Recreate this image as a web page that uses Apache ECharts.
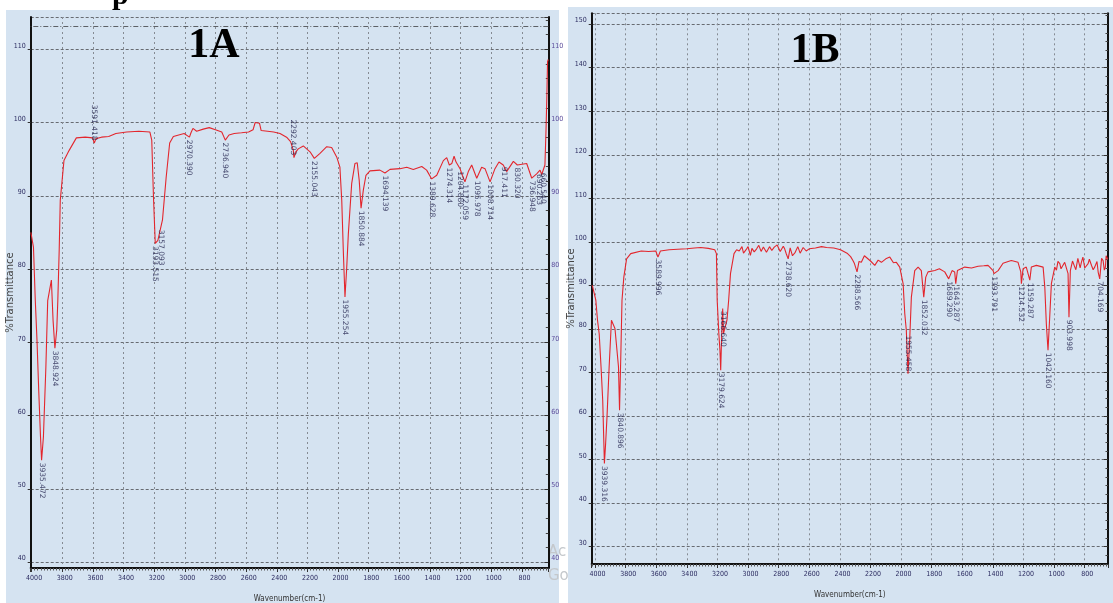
<!DOCTYPE html>
<html><head><meta charset="utf-8">
<script src="https://cdn.jsdelivr.net/npm/echarts@6/dist/echarts.min.js"></script>
<style>html,body{margin:0;padding:0;background:#fff;}#c{width:1113px;height:603px;}</style>
</head><body><div id="c"></div>
<script>
// ---------- DATA ----------
const xTickLabels = [4000, 3800, 3600, 3400, 3200, 3000, 2800, 2600, 2400, 2200, 2000, 1800, 1600, 1400, 1200, 1000, 800];
const yTickLabelsA = [40, 50, 60, 70, 80, 90, 100, 110];
const yTickLabelsB = [30, 40, 50, 60, 70, 80, 90, 100, 110, 120, 130, 140, 150];

// Spectrum 1A: wavenumber (cm-1) and %T
const wnA = [4005, 3988, 3976, 3965, 3953, 3942, 3935, 3923, 3907, 3895, 3883, 3871, 3860, 3848, 3836, 3829, 3820, 3813, 3789, 3755,
  3708, 3650, 3602, 3591, 3580, 3544, 3497, 3450, 3380, 3300, 3228, 3216, 3204, 3193, 3176, 3157, 3146, 3122, 3099, 3075,
  3005, 2970, 2960, 2947, 2923, 2880, 2841, 2800, 2759, 2736, 2712, 2678, 2630, 2584, 2555, 2541, 2513, 2502, 2460, 2420,
  2379, 2336, 2310, 2292, 2288, 2275, 2260, 2227, 2183, 2155, 2118, 2074, 2042, 2009, 1988, 1976, 1966, 1955, 1944, 1933,
  1911, 1890, 1875, 1862, 1850, 1835, 1818, 1792, 1727, 1694, 1661, 1596, 1552, 1509, 1454, 1422, 1389, 1356, 1313, 1291,
  1274, 1258, 1243, 1230, 1204, 1189, 1172, 1150, 1128, 1095, 1063, 1041, 1008, 976, 950, 922, 900, 856, 830, 769,
  736, 704, 682, 671, 650, 643, 638, 633, 628];
const tA = [85.0, 83.0, 75.7, 70.3, 63.1, 57.1, 53.9, 57.1, 66.6, 75.7, 77.1, 78.5, 73.0, 69.2, 71.7, 75.7, 82.6, 89.4, 94.8, 96.2,
  97.9, 98.0, 97.9, 97.2, 97.8, 98.0, 98.1, 98.5, 98.7, 98.8, 98.7, 97.6, 89.4, 83.5, 83.9, 85.7, 86.7, 92.5, 97.2, 98.1,
  98.5, 98.0, 98.6, 99.2, 98.8, 99.1, 99.3, 99.0, 98.7, 97.6, 98.3, 98.5, 98.6, 98.7, 99.0, 100.0, 99.9, 98.9, 98.8, 98.7,
  98.5, 98.0, 97.4, 96.2, 95.2, 96.0, 96.4, 96.8, 96.0, 95.1, 95.8, 96.7, 96.6, 95.3, 93.9, 89.4, 82.6, 76.2, 80.0, 84.8,
  91.7, 94.4, 94.5, 92.1, 88.3, 90.8, 92.8, 93.4, 93.5, 93.1, 93.6, 93.7, 93.9, 93.6, 94.0, 93.5, 92.3, 92.8, 94.8, 95.2,
  94.2, 94.4, 95.4, 94.6, 93.7, 92.8, 91.9, 93.3, 94.2, 92.4, 93.9, 93.7, 91.9, 93.7, 94.6, 94.2, 93.3, 94.7, 94.2, 94.4,
  92.4, 93.0, 93.5, 92.9, 94.2, 98.9, 103.0, 108.3, 108.6];

// Spectrum 1B
const wnB = [4018, 3995, 3984, 3973, 3961, 3950, 3943, 3939, 3931, 3922,
  3908, 3893, 3886, 3870, 3858, 3847, 3840, 3831, 3824, 3812,
  3794, 3767, 3698, 3650, 3603, 3589, 3573, 3516, 3460, 3401,
  3350, 3310, 3260, 3218, 3207, 3202, 3191, 3184, 3179, 3173,
  3166, 3161, 3150, 3138, 3127, 3115, 3092, 3075, 3058, 3040,
  3030, 3013, 3000, 2985, 2975, 2960, 2944, 2930, 2915, 2900,
  2880, 2860, 2845, 2829, 2810, 2790, 2770, 2761, 2750, 2738,
  2725, 2710, 2692, 2675, 2660, 2640, 2620, 2601, 2560, 2520,
  2487, 2440, 2396, 2350, 2330, 2315, 2305, 2288, 2275, 2260,
  2240, 2227, 2200, 2172, 2150, 2129, 2100, 2074, 2050, 2031,
  2009, 1987, 1976, 1966, 1955, 1944, 1933, 1911, 1889, 1868,
  1852, 1839, 1824, 1780, 1750, 1715, 1689, 1667, 1650, 1643,
  1632, 1584, 1540, 1497, 1460, 1432, 1399, 1393, 1366, 1334,
  1300, 1280, 1236, 1218, 1214, 1203, 1182, 1159, 1149, 1116,
  1072, 1061, 1051, 1040, 1029, 1018, 996, 985, 975, 963,
  955, 931, 909, 903, 894, 880, 865, 858, 845, 830,
  822, 812, 800, 790, 778, 770, 755, 745, 735, 720,
  712, 702, 690, 680, 672, 665, 660, 650];
const tB = [90.0, 86.6, 82.0, 78.9, 71.3, 63.6, 54.4, 49.1, 53.7, 59.8,
  71.3, 82.0, 82.4, 80.1, 79.7, 71.3, 61.3, 75.1, 86.6, 91.9,
  96.1, 97.3, 97.9, 97.8, 97.9, 96.5, 97.9, 98.2, 98.3, 98.4,
  98.6, 98.7, 98.5, 98.2, 97.3, 86.6, 78.9, 75.1, 70.5, 78.1,
  84.7, 78.9, 80.4, 82.0, 86.6, 92.7, 97.3, 98.2, 97.9, 98.9,
  97.4, 98.2, 98.9, 96.9, 98.5, 97.7, 98.4, 99.2, 97.8, 98.8,
  97.6, 98.9, 98.0, 98.8, 99.3, 97.8, 99.0, 98.4, 97.2, 96.1,
  98.6, 96.8, 97.6, 98.9, 97.4, 98.7, 97.9, 98.4, 98.6, 98.9,
  98.7, 98.6, 98.2, 97.3, 96.6, 95.7, 95.0, 93.1, 95.5, 95.3,
  96.8, 96.5, 95.6, 94.6, 95.8, 95.3, 96.1, 96.5, 95.2, 95.3,
  94.2, 90.4, 83.5, 79.7, 69.7, 77.4, 87.3, 93.4, 94.2, 93.4,
  87.3, 91.9, 93.1, 93.4, 93.8, 93.1, 91.5, 93.4, 93.1, 90.4,
  93.4, 94.2, 94.0, 94.4, 94.5, 94.6, 93.4, 92.7, 93.4, 95.1,
  95.5, 95.7, 95.3, 93.1, 90.4, 93.8, 94.2, 91.2, 94.2, 94.6,
  94.2, 89.6, 81.2, 75.1, 82.7, 90.4, 94.2, 93.5, 95.5, 95.0,
  93.8, 95.3, 92.7, 82.7, 93.4, 95.6, 94.2, 93.6, 96.2, 94.0,
  95.3, 96.5, 94.0, 93.8, 95.0, 96.0, 94.5, 93.6, 94.2, 95.5,
  93.0, 91.5, 96.2, 95.7, 93.5, 94.2, 96.8, 96.0];

// Peak annotations
const peakWnA = [3935, 3848, 3591, 3193, 3157, 2970, 2736, 2292, 2155, 1955, 1850, 1694, 1389, 1274, 1204, 1172, 1095, 1008, 917, 830, 736, 690, 660];
const peakTA = [53.9, 69.2, 97.2, 83.5, 85.7, 98.0, 97.6, 95.2, 95.1, 76.2, 88.3, 93.1, 92.3, 94.2, 93.7, 91.9, 92.4, 91.9, 94.3, 94.2, 92.4, 93.3, 93.5];
const peakTextA = ['3935.472', '3848.924', '3591.418', '3193.515', '3157.093', '2970.390', '2736.940', '2292.403', '2155.043', '1955.254',
  '1850.884', '1694.139', '1389.628', '1274.314', '1204.880', '1172.059', '1095.978', '1008.714', '917.411', '830.320', '736.948', '690.263', '660.540'];
const peaksAboveA = [3591, 2292];

const peakWnB = [3939, 3840, 3589, 3179, 3166, 2738, 2288, 1955, 1852, 1689, 1643, 1393, 1214, 1159, 1040, 903, 702];
const peakTB = [49.1, 61.3, 96.5, 70.5, 84.7, 96.1, 93.1, 69.7, 87.3, 91.5, 90.4, 92.7, 90.4, 91.2, 75.1, 82.7, 91.5];
const peakTextB = ['3939.316', '3840.896', '3589.996', '3179.624', '3166.640', '2738.620', '2288.566', '1955.458', '1852.032', '1689.290',
  '1643.287', '1393.791', '1214.532', '1159.287', '1042.160', '903.998', '704.169'];
const peaksAboveB = [1955];

const topRefLineA = 113.1;

// ---------- CHART ----------
const chart = echarts.init(document.getElementById('c'), null, {renderer: 'canvas'});
const LBL = '#2b2b60';
const tickFont = '"Liberation Sans Narrow", "DejaVu Sans Condensed", sans-serif';

function xAxisCfg(gi, min, max) {
  return {
    type: 'value', gridIndex: gi, inverse: true, min: min, max: max, splitNumber: 17,
    name: 'Wavenumber(cm-1)', nameLocation: 'middle', nameGap: 27,
    nameTextStyle: {fontSize: 8, color: '#333', fontFamily: tickFont},
    axisLine: {show: true, onZero: false, lineStyle: {color: '#111', width: 2}},
    axisTick: {show: true, length: 4, lineStyle: {color: '#333'}},
    minorTick: {show: true, splitNumber: 10, length: 2.5, lineStyle: {color: '#555'}},
    axisLabel: {fontSize: 7, color: LBL, fontFamily: tickFont, margin: 7, padding: [0, 0, 0, 5],
      showMinLabel: false, showMaxLabel: false,
      formatter: v => xTickLabels.includes(v) ? String(v) : ''},
    splitLine: {show: true, lineStyle: {type: [2, 3], color: '#858b93', width: 1}}
  };
}
function yAxisLeft(gi, min, max, split, labels) {
  return {
    type: 'value', gridIndex: gi, min: min, max: max, splitNumber: split, position: 'left',
    name: '%Transmittance', nameLocation: 'middle', nameGap: 15, nameMoveOverlap: false,
    nameTextStyle: {fontSize: 10, color: '#444', fontFamily: '"DejaVu Sans", sans-serif'},
    axisLine: {show: true, onZero: false, lineStyle: {color: '#111', width: 2}},
    axisTick: {show: true, length: 3, lineStyle: {color: '#333'}},
    axisLabel: {fontSize: 7, color: LBL, fontFamily: tickFont, margin: 5, verticalAlign: 'bottom',
      showMinLabel: false, showMaxLabel: false,
      formatter: v => labels.includes(v) ? String(v) : ''},
    splitLine: {show: true, lineStyle: {type: [3, 2], color: '#676b71', width: 1}}
  };
}
function yAxisRight(gi, min, max, split, labels, showLabels) {
  return {
    type: 'value', gridIndex: gi, min: min, max: max, splitNumber: split, position: 'right',
    axisLine: {show: true, onZero: false, lineStyle: {color: '#111', width: 2}},
    axisTick: {show: true, inside: true, length: 4, lineStyle: {color: '#333'}},
    minorTick: {show: true, splitNumber: 5, length: 2.5, lineStyle: {color: '#444'}},
    axisLabel: {show: showLabels, inside: false, fontSize: 7, color: '#5a4a9a', fontFamily: tickFont, margin: 3,
      verticalAlign: 'bottom', showMinLabel: false, showMaxLabel: false,
      formatter: v => labels.includes(v) ? String(v) : ''},
    splitLine: {show: false}
  };
}
function peakSeries(xi, yi, wns, ts, texts, above) {
  return {
    type: 'scatter', xAxisIndex: xi, yAxisIndex: yi, symbolSize: 1, silent: true,
    itemStyle: {color: 'rgba(0,0,0,0)'}, z: 5,
    data: wns.map((w, i) => {
      const up = above.includes(w);
      return {
        name: texts[i], value: [w, ts[i]],
        label: {show: true, position: up ? 'top' : 'bottom', distance: 2, rotate: -90,
          align: up ? 'right' : 'left', verticalAlign: 'middle',
          formatter: '{b}', fontSize: 7.5, color: '#1e1e4a', fontFamily: '"DejaVu Sans", sans-serif'}
      };
    })
  };
}

const option = {
  animation: false,
  backgroundColor: '#ffffff',
  graphic: [
    {type: 'rect', z: -10, shape: {x: 6, y: 10, width: 553, height: 593}, style: {fill: '#d5e3f1'}},
    {type: 'rect', z: -10, shape: {x: 568, y: 7, width: 545, height: 596}, style: {fill: '#d5e3f1'}},
    {type: 'text', z: 10, x: 214, y: 46, style: {text: '1A', font: 'bold 42px "Liberation Serif", serif', fill: '#000', textAlign: 'center', textVerticalAlign: 'middle'}},
    {type: 'text', z: 10, x: 815, y: 51, style: {text: '1B', font: 'bold 42px "Liberation Serif", serif', fill: '#000', textAlign: 'center', textVerticalAlign: 'middle'}},
    {type: 'text', z: 10, x: 112, y: 11, style: {text: 'p', font: 'bold 30px "Liberation Serif", serif', fill: '#000', textAlign: 'left', textVerticalAlign: 'bottom'}},
    {type: 'text', z: -5, x: 548, y: 552, style: {text: 'Ac', font: '15px "DejaVu Sans", sans-serif', fill: '#c4c8cc', textVerticalAlign: 'middle'}},
    {type: 'text', z: -5, x: 548, y: 576, style: {text: 'Go', font: '15px "DejaVu Sans", sans-serif', fill: '#c4c8cc', textVerticalAlign: 'middle'}}
  ],
  grid: [
    {left: 30.7, top: 17, width: 517.6, height: 551, containLabel: false, outerBoundsMode: 'none'},
    {left: 591.7, top: 13.3, width: 516.3, height: 550.7, containLabel: false, outerBoundsMode: 'none'}
  ],
  xAxis: [xAxisCfg(0, 628, 4006), xAxisCfg(1, 648, 4022)],
  yAxis: [
    yAxisLeft(0, 39.2, 114.4, 8, yTickLabelsA),
    yAxisRight(0, 39.2, 114.4, 8, yTickLabelsA, true),
    yAxisLeft(1, 26, 152.5, 13, yTickLabelsB),
    yAxisRight(1, 26, 152.5, 13, yTickLabelsB, false)
  ],
  series: [
    {type: 'line', xAxisIndex: 0, yAxisIndex: 0, showSymbol: false, symbol: 'none', z: 3,
      lineStyle: {color: '#e3262d', width: 1.1},
      data: wnA.map((w, i) => [w, tA[i]]),
      markLine: {silent: true, symbol: 'none', label: {show: false},
        lineStyle: {type: [5, 2, 1, 2], color: '#5d6166', width: 1}, data: [{yAxis: topRefLineA}]}},
    {type: 'line', xAxisIndex: 1, yAxisIndex: 2, showSymbol: false, symbol: 'none', z: 3,
      lineStyle: {color: '#e3262d', width: 1.1},
      data: wnB.map((w, i) => [w, tB[i]])},
    peakSeries(0, 0, peakWnA, peakTA, peakTextA, peaksAboveA),
    peakSeries(1, 2, peakWnB, peakTB, peakTextB, peaksAboveB)
  ]
};
chart.setOption(option);
</script>
</body></html>
